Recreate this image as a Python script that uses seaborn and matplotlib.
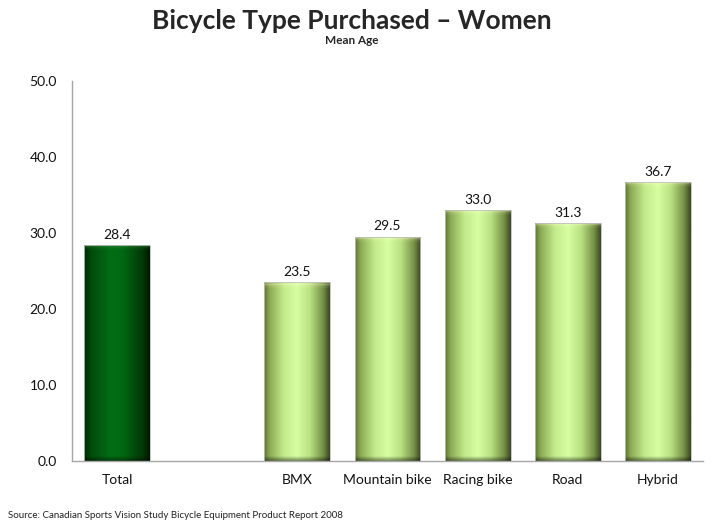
import numpy as np
import pandas as pd
import matplotlib
matplotlib.use('Agg')
import matplotlib.pyplot as plt
import seaborn as sns

# data
categories = ['Total', ' ', 'BMX', 'Mountain bike', 'Racing bike', 'Road', 'Hybrid']
mean_age = [28.4, np.nan, 23.5, 29.5, 33.0, 31.3, 36.7]
y_ticks = [0, 10, 20, 30, 40, 50]

title = 'Bicycle Type Purchased \u2013 Women'
subtitle = 'Mean Age'
source = 'Source: Canadian Sports Vision Study Bicycle Equipment Product Report 2008'

DARK = '#006414'
LIGHT = '#d2ff9c'

sns.set_style('white')
plt.rcParams['font.family'] = ['Lato', 'DejaVu Sans']

df = pd.DataFrame({'category': categories, 'age': mean_age})
palette = {c: (DARK if c == 'Total' else LIGHT) for c in categories}

fig = plt.figure(figsize=(7.13, 5.25), dpi=100)
ax = fig.add_axes([0.101, 0.1219, 0.885, 0.7244])

sns.barplot(data=df, x='category', y='age', hue='category', order=categories,
            hue_order=categories, palette=palette, width=0.73, legend=False,
            edgecolor='#bfbfbf', linewidth=0.6, ax=ax)

# cylinder-like shading: horizontal colour profile + bevel at top/bottom
light_stops = [(0.0, (95, 120, 55)), (0.08, (140, 170, 85)), (0.3, (195, 235, 140)),
               (0.5, (215, 255, 162)), (0.7, (185, 225, 130)), (0.9, (118, 145, 70)),
               (1.0, (60, 75, 35))]
dark_stops = [(0.0, (0, 40, 0)), (0.1, (0, 75, 10)), (0.4, (0, 110, 22)),
              (0.6, (0, 104, 18)), (0.9, (0, 55, 6)), (1.0, (0, 25, 0))]


def shade_image(stops, h_px, glow, w_px=66):
    xs = np.linspace(0, 1, w_px)
    pos = [s[0] for s in stops]
    row = np.stack([np.interp(xs, pos, [s[1][k] for s in stops]) for k in range(3)], axis=-1) / 255.0
    n = max(int(h_px), 10)
    img = np.repeat(row[None, :, :], n, axis=0)
    glow = np.array(glow)[None, None, :]
    d = np.arange(n)  # pixel distance from top
    top = np.clip(1 - d / 8.0, 0, 1)[:, None, None]
    img = img + (glow - img) * 0.25 * top
    line = (np.abs(d - 3) < 1.0)[:, None, None] * 0.3
    img = img + (glow - img) * line
    bot = np.clip(1 - (n - 1 - d) / 6.0, 0, 1)[:, None, None]
    img = img * (1 - 0.45 * bot)
    return np.clip(img, 0, 1)


fig.canvas.draw()
px_per_unit = ax.transData.transform((0, 1))[1] - ax.transData.transform((0, 0))[1]
for patch in list(ax.patches):
    h = patch.get_height()
    if not np.isfinite(h) or h <= 0:
        continue
    x0, w = patch.get_x(), patch.get_width()
    fc = patch.get_facecolor()
    if fc[1] < 0.6:
        img = shade_image(dark_stops, h * px_per_unit, (0.3, 0.6, 0.3))
    else:
        img = shade_image(light_stops, h * px_per_unit, (1.0, 1.0, 0.8))
    im = ax.imshow(img, extent=(x0, x0 + w, 0, h), aspect='auto',
                   interpolation='bilinear', zorder=patch.get_zorder() + 0.1)
    im.set_clip_path(patch)
    patch.set_facecolor('none')
    patch.set_zorder(patch.get_zorder() + 0.2)

for cont in ax.containers:
    ax.bar_label(cont, fmt='%.1f', padding=3, fontsize=10, color='#111111')

ax.set_xlim(-0.5, len(categories) - 0.5)
ax.set_ylim(0, 50)
ax.set_yticks(y_ticks)
ax.set_yticklabels([f'{v:.1f}' for v in y_ticks])
ax.set_xticks(range(len(categories)))
ax.set_xticklabels(categories)
ax.set_xticks(np.arange(0.5, len(categories), 1.0), minor=True)
ax.tick_params(axis='x', which='major', length=0, pad=9, labelsize=10, labelcolor='#111111')
ax.tick_params(axis='x', which='minor', length=5, width=0.9, color='#a6a6a6', direction='out')
ax.tick_params(axis='y', length=5, width=0.9, color='#a6a6a6', direction='out', pad=6,
               labelsize=10, labelcolor='#111111')
ax.set_xlabel('')
ax.set_ylabel('')
for side in ['top', 'right']:
    ax.spines[side].set_visible(False)
for side in ['left', 'bottom']:
    ax.spines[side].set_color('#a6a6a6')
    ax.spines[side].set_linewidth(1.0)

fig.text(0.494, 0.945, title, ha='center', va='baseline', fontsize=19, fontweight='bold')
fig.text(0.494, 0.917, subtitle, ha='center', va='baseline', fontsize=8.5, fontweight='bold')
fig.text(0.011, 0.0133, source, ha='left', va='baseline', fontsize=7, color='#222222')

fig.savefig('out.png', dpi=100)
